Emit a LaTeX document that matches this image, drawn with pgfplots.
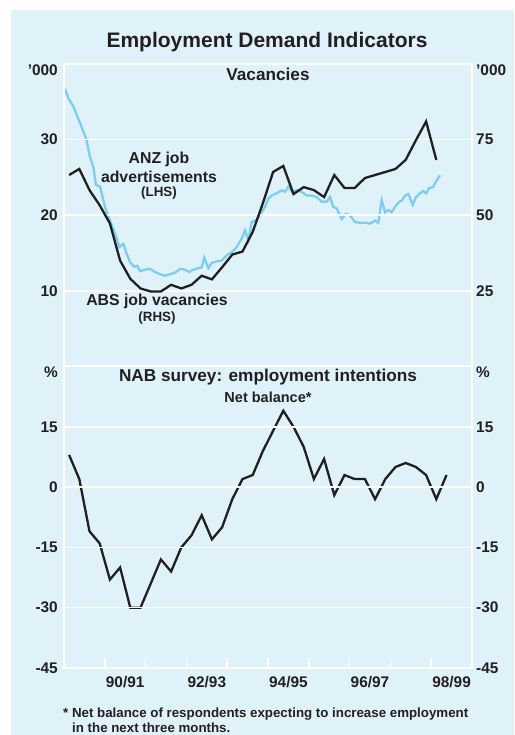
\documentclass[border=0pt]{standalone}
\usepackage{fontspec}
\setmainfont{Liberation Sans}
\usepackage{pgfplots}
\pgfplotsset{compat=1.18}
\definecolor{panelbg}{RGB}{223,242,250}
\definecolor{ink}{RGB}{35,31,32}
\definecolor{anzblue}{RGB}{125,205,240}

\newcommand{\tickfont}{\fontsize{15.4}{18}\selectfont\bfseries}

\pgfplotsset{
  rbapanel/.style={
    scale only axis, anchor=south west, width=408pt,
    xmin=1989.5, xmax=1999.5,
    axis line style={white, line width=2pt},
    ymajorgrids, major grid style={white, line width=1.6pt},
    ytick style={draw=none},
    ticklabel style={font=\tickfont, text=ink, inner sep=0pt},
    yticklabel style={xshift=-6pt},
    /pgf/number format/assume math mode=true,
  },
}

% ANZ job advertisements ('000, LHS), monthly
\pgfplotstableread{
year val
1989.525 36.7
1989.605 35.5
1989.728 34.4
1989.892 32.2
1990.039 30.2
1990.137 27.7
1990.218 26.4
1990.284 24.0
1990.382 23.8
1990.505 21.1
1990.627 19.3
1990.750 17.6
1990.855 15.8
1990.953 16.2
1991.037 14.9
1991.118 13.8
1991.216 13.2
1991.297 13.3
1991.363 12.6
1991.485 12.8
1991.608 12.9
1991.730 12.5
1991.853 12.2
1991.975 12.0
1992.098 12.2
1992.221 12.4
1992.343 12.9
1992.466 12.8
1992.571 12.5
1992.669 12.8
1992.792 13.0
1992.875 13.1
1992.939 14.4
1993.037 13.0
1993.120 13.7
1993.243 13.9
1993.365 14.0
1993.488 14.7
1993.610 15.1
1993.733 15.8
1993.855 16.9
1993.936 18.0
1994.017 16.7
1994.100 19.1
1994.223 19.4
1994.346 20.4
1994.426 21.1
1994.507 22.2
1994.591 22.6
1994.713 22.9
1994.836 23.3
1994.917 23.1
1994.998 23.8
1995.081 23.1
1995.203 23.3
1995.326 23.1
1995.449 22.6
1995.571 22.6
1995.694 22.4
1995.816 21.8
1995.939 21.8
1996.020 22.4
1996.100 21.1
1996.184 20.9
1996.306 19.5
1996.412 20.2
1996.510 20.0
1996.632 19.1
1996.755 19.0
1996.877 19.0
1997.000 18.9
1997.123 19.3
1997.203 19.0
1997.287 22.0
1997.368 20.4
1997.449 20.7
1997.532 20.4
1997.613 21.1
1997.718 21.8
1997.777 21.9
1997.858 22.6
1997.939 22.8
1998.047 21.4
1998.127 22.4
1998.225 22.9
1998.306 23.2
1998.373 22.9
1998.453 23.6
1998.537 23.7
1998.635 24.6
1998.716 25.3
}\anzdata

% ABS job vacancies ('000, RHS), quarterly
\pgfplotstableread{
year val
1989.625 63.3
1989.875 65.3
1990.125 58.3
1990.375 53.3
1990.625 47.3
1990.875 35.0
1991.125 29.0
1991.375 25.8
1991.625 24.8
1991.875 24.8
1992.125 27.0
1992.375 25.8
1992.625 27.0
1992.875 30.0
1993.125 28.8
1993.375 32.8
1993.625 37.0
1993.875 38.0
1994.125 44.5
1994.375 54.0
1994.625 64.3
1994.875 66.3
1995.125 57.0
1995.375 59.3
1995.625 58.3
1995.875 56.0
1996.125 63.3
1996.375 59.0
1996.625 59.0
1996.875 62.3
1997.125 63.3
1997.375 64.3
1997.625 65.3
1997.875 68.3
1998.125 74.8
1998.375 81.0
1998.625 68.3
}\absdata

% NAB survey employment intentions, net balance (%), quarterly
\pgfplotstableread{
year val
1989.625 8
1989.875 2
1990.125 -11
1990.375 -14
1990.625 -23
1990.875 -20
1991.125 -30
1991.375 -30
1991.625 -24
1991.875 -18
1992.125 -21
1992.375 -15
1992.625 -12
1992.875 -7
1993.125 -13
1993.375 -10
1993.625 -3
1993.875 2
1994.125 3
1994.375 9
1994.625 14
1994.875 19
1995.125 15
1995.375 10
1995.625 2
1995.875 7
1996.125 -2
1996.375 3
1996.625 2
1996.875 2
1997.125 -3
1997.375 2
1997.625 5
1997.875 6
1998.125 5
1998.375 3
1998.625 -3
1998.875 3
}\nabdata

\begin{document}
\begin{tikzpicture}[x=1pt,y=1pt]
\clip (0,0) rectangle (514,735);
\fill[white] (0,0) rectangle (514,735);
\fill[panelbg] (11,0) rectangle (514,725);

% ---- upper panel: vacancies ----
\begin{axis}[rbapanel, at={(64pt,368.5pt)}, height=302.5pt,
  ymin=0, ymax=40, ytick={10,20,30}, xtick=\empty]
\addplot[anzblue, line width=2.3pt] table[x=year,y=val]{\anzdata};
\end{axis}
\begin{axis}[rbapanel, at={(64pt,368.5pt)}, height=302.5pt,
  ymin=0, ymax=100, ytick={25,50,75}, xtick=\empty,
  yticklabel pos=right, yticklabel style={xshift=10pt, anchor=west}]
\addplot[ink, line width=2.3pt] table[x=year,y=val]{\absdata};
\end{axis}

% ---- lower panel: NAB survey ----
\begin{axis}[rbapanel, at={(64pt,67pt)}, height=301.5pt,
  ymin=-45, ymax=30, ytick={-45,-30,-15,0,15},
  yticklabels={-45,-30,-15,0,15},
  xtick={1990.5,1991.5,...,1998.5}, xticklabels={},
  xtick pos=bottom, tick align=inside, major tick length=10pt,
  xtick style={white, line width=1.6pt},
  extra x ticks={1991,1993,1995,1997,1999},
  extra x tick labels={90/91,92/93,94/95,96/97,98/99},
  extra x tick style={major tick length=0pt,
    xticklabel style={anchor=north, yshift=-8pt}}]
\addplot[ink, line width=2.3pt] table[x=year,y=val]{\nabdata};
\end{axis}
\begin{axis}[rbapanel, at={(64pt,67pt)}, height=301.5pt,
  ymin=-45, ymax=30, ytick={-45,-30,-15,0,15},
  yticklabels={-45,-30,-15,0,15}, xtick=\empty,
  yticklabel pos=right, yticklabel style={xshift=10pt, anchor=west}]
\end{axis}

% ---- titles and annotations ----
\begin{scope}[every node/.style={text=ink, inner sep=0pt}]
\node at (267,693) {\fontsize{21}{24}\selectfont\bfseries Employment Demand Indicators};
\node[anchor=east] at (58,665) {\tickfont ’000};
\node[anchor=west] at (476,665) {\tickfont ’000};
\node at (268,661) {\fontsize{17.2}{20}\selectfont\bfseries Vacancies};
\node at (159,576) {\fontsize{15.8}{18}\selectfont\bfseries ANZ job};
\node at (159,558.3) {\fontsize{15.8}{18}\selectfont\bfseries advertisements};
\node at (159,542.3) {\fontsize{13.4}{16}\selectfont\bfseries (LHS)};
\node at (157,433.3) {\fontsize{15.8}{18}\selectfont\bfseries ABS job vacancies};
\node at (157,416.7) {\fontsize{13.4}{16}\selectfont\bfseries (RHS)};
\node[anchor=east] at (58,363) {\tickfont \%};
\node[anchor=west] at (476,363) {\tickfont \%};
\node at (268,358.3) {\fontsize{17.2}{20}\selectfont\bfseries NAB survey: employment intentions};
\node at (268,337.3) {\fontsize{14.5}{17}\selectfont\bfseries Net balance*};
\node[anchor=west] at (63,21) {\fontsize{13.3}{15}\selectfont\bfseries * Net balance of respondents expecting to increase employment};
\node[anchor=west] at (72,7) {\fontsize{13.3}{15}\selectfont\bfseries in the next three months.};
\end{scope}
\end{tikzpicture}
\end{document}
